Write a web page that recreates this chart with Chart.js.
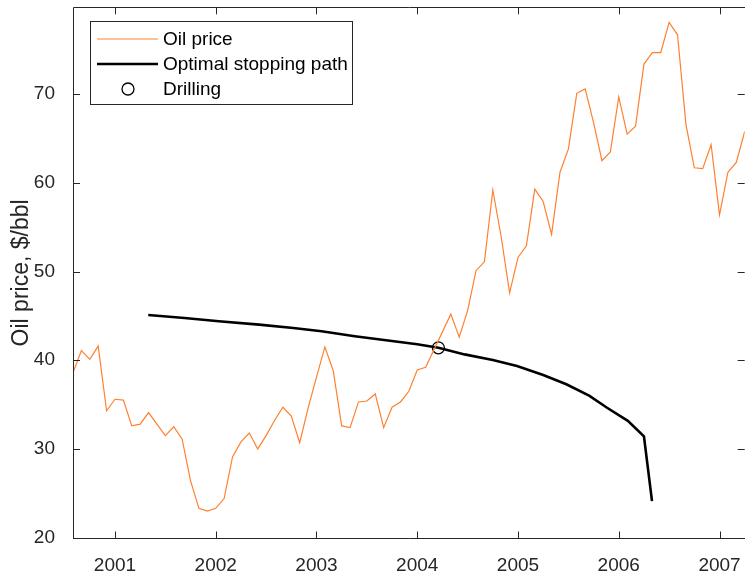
<!DOCTYPE html>
<html>
<head>
<meta charset="utf-8">
<script src="https://cdn.jsdelivr.net/npm/chart.js@4.4.1/dist/chart.umd.min.js"></script>
<style>
  html, body { margin: 0; padding: 0; background: #fff; overflow: hidden; }
  #wrap { width: 745px; height: 577px; overflow: hidden; }
</style>
</head>
<body>
<div id="wrap"><canvas id="myChart" width="752" height="577"></canvas></div>
<script>
// Serie mensual del precio del petróleo, desde agosto de 2000
const startYear = 2000, startMonth = 8;
const oilPrice = [
  38.6, 41.1, 40.1, 41.6, 34.3, 35.6, 35.5, 32.6, 32.8, 34.1, 32.8, 31.5,
  32.5, 31.1, 26.4, 23.3, 23.0, 23.3, 24.4, 29.1, 30.8, 31.8, 30.0, 31.5,
  33.2, 34.7, 33.7, 30.7, 34.6, 38.1, 41.5, 38.8, 32.6, 32.4, 35.3, 35.4,
  36.2, 32.4, 34.7, 35.3, 36.5, 38.9, 39.2, 41.2, 43.2, 45.2, 42.6, 45.6,
  50.1, 51.1, 59.2, 53.9, 47.6, 51.6, 52.9, 59.3, 57.9, 54.2, 61.2, 63.8,
  70.1, 70.6, 66.8, 62.5, 63.5, 69.7, 65.5, 66.4, 73.4, 74.7, 74.7, 78.1,
  76.7, 66.6, 61.7, 61.6, 64.3, 56.4, 61.2, 62.3, 65.8
];

// Trayectoria óptima de parada
const pathYears  = [2001.33, 2001.69, 2002.03, 2002.43, 2002.77, 2003.05, 2003.38, 2003.71,
                    2004.0, 2004.21, 2004.47, 2004.75, 2004.99, 2005.25, 2005.48, 2005.71,
                    2005.88, 2006.09, 2006.25, 2006.33];
const pathValues = [45.1, 44.76, 44.39, 44.02, 43.64, 43.27, 42.71, 42.23,
                    41.8, 41.4, 40.66, 40.02, 39.34, 38.33, 37.29, 35.98,
                    34.67, 33.17, 31.41, 24.12];

// Punto de perforación
const drillYear = [2004.21];
const drillPrice = [41.4];

const xTicks = [2001, 2002, 2003, 2004, 2005, 2006, 2007];
const yTicks = [20, 30, 40, 50, 60, 70];

const axisColor = '#262626';
const oilColor = 'rgb(255, 128, 48)';

const oilData = oilPrice.map((v, i) => ({ x: startYear + (startMonth - 1 + i) / 12, y: v }));
const pathData = pathYears.map((x, i) => ({ x: x, y: pathValues[i] }));
const drillData = drillYear.map((x, i) => ({ x: x, y: drillPrice[i] }));

/* Caja de ejes con marcas hacia dentro, estilo MATLAB */
const boxPlugin = {
  id: 'boxPlugin',
  afterDatasetsDraw(chart) {
    const { ctx, chartArea: a, scales } = chart;
    const len = 7;
    ctx.save();
    ctx.strokeStyle = axisColor;
    ctx.lineWidth = 1;
    ctx.beginPath();
    ctx.rect(Math.round(a.left) + 0.5, Math.round(a.top) + 0.5,
             Math.round(a.right - a.left), Math.round(a.bottom - a.top));
    xTicks.forEach(t => {
      const px = Math.round(scales.x.getPixelForValue(t)) + 0.5;
      ctx.moveTo(px, a.bottom); ctx.lineTo(px, a.bottom - len);
      ctx.moveTo(px, a.top); ctx.lineTo(px, a.top + len);
    });
    yTicks.forEach(t => {
      const py = Math.round(scales.y.getPixelForValue(t)) + 0.5;
      ctx.moveTo(a.left, py); ctx.lineTo(a.left + len, py);
      ctx.moveTo(a.right, py); ctx.lineTo(a.right - len, py);
    });
    ctx.stroke();
    ctx.restore();
  }
};

/* Leyenda dentro del área del gráfico */
const legendPlugin = {
  id: 'legendPlugin',
  afterDraw(chart) {
    const ctx = chart.ctx;
    const ds = chart.data.datasets;
    const x0 = 90.5, y0 = 21.5, w = 262, h = 83;
    ctx.save();
    ctx.fillStyle = '#fff';
    ctx.fillRect(x0, y0, w, h);
    ctx.strokeStyle = axisColor;
    ctx.lineWidth = 1;
    ctx.strokeRect(x0, y0, w, h);
    ctx.font = '19px "Liberation Sans", Arial, sans-serif';
    ctx.textBaseline = 'middle';
    const rows = [39, 64, 89];
    ds.forEach((d, i) => {
      const y = rows[i];
      if (i < 2) {
        ctx.strokeStyle = d.borderColor;
        ctx.lineWidth = d.borderWidth;
        ctx.beginPath();
        ctx.moveTo(97, y); ctx.lineTo(158, y);
        ctx.stroke();
      } else {
        ctx.strokeStyle = d.pointBorderColor;
        ctx.lineWidth = d.pointBorderWidth;
        ctx.beginPath();
        ctx.arc(128, y, d.pointRadius, 0, Math.PI * 2);
        ctx.stroke();
      }
      ctx.fillStyle = '#000';
      ctx.fillText(d.label, 163, y + 1);
    });
    ctx.restore();
  }
};

const ctx = document.getElementById('myChart');
const myChart = new Chart(ctx, {
  type: 'line',
  data: {
    datasets: [
      {
        label: 'Oil price',
        data: oilData,
        borderColor: oilColor,
        borderWidth: 1.2,
        pointRadius: 0,
        tension: 0
      },
      {
        label: 'Optimal stopping path',
        data: pathData,
        borderColor: '#000',
        borderWidth: 2.6,
        pointRadius: 0,
        tension: 0
      },
      {
        type: 'scatter',
        label: 'Drilling',
        data: drillData,
        showLine: false,
        pointRadius: 6,
        pointBorderColor: '#000',
        pointBackgroundColor: 'rgba(0,0,0,0)',
        pointBorderWidth: 1.3
      }
    ]
  },
  options: {
    responsive: false,
    animation: false,
    devicePixelRatio: 1,
    layout: { padding: { top: 4, right: 3, left: 0, bottom: 0 } },
    plugins: { legend: { display: false }, tooltip: { enabled: false } },
    scales: {
      x: {
        type: 'linear',
        min: startYear + (startMonth - 1) / 12,
        max: startYear + (startMonth - 1 + oilPrice.length - 1) / 12,
        afterBuildTicks: s => { s.ticks = xTicks.map(v => ({ value: v })); },
        afterFit: s => { s.height = 38.5; s.paddingLeft = 0; s.paddingRight = 0; },
        grid: { display: false },
        border: { display: false },
        ticks: {
          color: axisColor,
          font: { family: '"Liberation Sans", Arial, sans-serif', size: 19 },
          padding: 8,
          maxRotation: 0,
          callback: v => String(v)
        }
      },
      y: {
        min: 19.9,
        max: 79.8,
        afterBuildTicks: s => { s.ticks = yTicks.map(v => ({ value: v })); },
        afterFit: s => { s.width = 73; s.paddingTop = 0; s.paddingBottom = 0; },
        grid: { display: false },
        border: { display: false },
        ticks: {
          color: axisColor,
          font: { family: '"Liberation Sans", Arial, sans-serif', size: 19 },
          padding: 10
        },
        title: {
          display: true,
          text: 'Oil price, $/bbl',
          color: axisColor,
          font: { family: '"Liberation Sans", Arial, sans-serif', size: 23 },
          padding: { top: 8, bottom: 0 }
        }
      }
    }
  },
  plugins: [boxPlugin, legendPlugin]
});
</script>
</body>
</html>
